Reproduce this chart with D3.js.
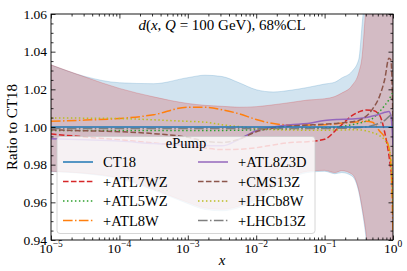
<!DOCTYPE html>
<html>
<head>
<meta charset="utf-8">
<script src="https://cdn.jsdelivr.net/npm/d3@7"></script>
<style>
  body { margin: 0; background: #fff; }
  svg { display: block; font-family: "Liberation Serif", "DejaVu Serif", serif; }
</style>
</head>
<body>
<svg id="chart" width="407" height="271"></svg>
<script>
// ---- data (x given as log10 x) ----
const bandLogX = [-5, -4.5, -4, -3.5, -3, -2.75, -2.5, -2.25, -2, -1.75, -1.5, -1.25, -1, -0.85, -0.75, -0.6, -0.5, -0.45, -0.4, -0.35, -0.3, 0];
const ct18Upper = [1.033, 1.0268, 1.0235, 1.023, 1.0262, 1.0275, 1.0268, 1.0235, 1.0198, 1.0186, 1.0195, 1.021, 1.0228, 1.0238, 1.026, 1.0295, 1.036, 1.055, 1.075, 1.09, 1.11, 1.2];
const ct18Lower = [0.9763, 0.9752, 0.9725, 0.9665, 0.9593, 0.9562, 0.9555, 0.9572, 0.961, 0.9675, 0.9728, 0.9758, 0.9765, 0.9752, 0.9758, 0.974, 0.9655, 0.9555, 0.943, 0.925, 0.91, 0.8];
const ePumpUpper = [1.033, 1.0265, 1.0205, 1.016, 1.0125, 1.0115, 1.011, 1.0105, 1.0108, 1.0118, 1.013, 1.0143, 1.015, 1.0162, 1.018, 1.022, 1.029, 1.038, 1.062, 1.085, 1.11, 1.2];
const ePumpLower = [0.9765, 0.9755, 0.973, 0.967, 0.96, 0.957, 0.9563, 0.958, 0.962, 0.968, 0.9735, 0.9765, 0.977, 0.9758, 0.9768, 0.975, 0.9665, 0.957, 0.9455, 0.93, 0.91, 0.8];

const lineLogX = [-5, -4.5, -4, -3.5, -3, -2.75, -2.5, -2.25, -2, -1.75, -1.5, -1.25, -1, -0.8, -0.6, -0.5, -0.4, -0.3, -0.2, -0.12, -0.06, -0.03, 0];
const ct18 = [1, 1, 1, 1, 1, 1, 1, 1, 1, 1, 1, 1, 1, 1, 1, 1, 1, 1, 1, 1, 1, 1, 1];
const atl7wz = [0.9963, 0.9947, 0.9932, 0.9915, 0.99, 0.9888, 0.988, 0.9882, 0.989, 0.9905, 0.9918, 0.9922, 0.9935, 0.9995, 1.006, 1.008, 1.009, 1.0088, 1.0065, 0.997, 0.985, 0.977, 0.97];
const atl5wz = [0.9982, 0.9982, 0.9982, 0.9982, 0.9982, 0.9982, 0.9982, 0.9983, 0.9985, 0.9988, 0.999, 0.9993, 0.9995, 1.0, 1.0012, 1.002, 1.003, 1.0045, 1.008, 1.0115, 1.0145, 1.0165, 1.0186];
const atl8w = [1.003, 1.0037, 1.0045, 1.0065, 1.0105, 1.0105, 1.0092, 1.007, 1.004, 1.0018, 1.0011, 1.001, 1.0012, 1.0018, 1.0025, 1.0028, 1.003, 1.0025, 0.998, 0.9945, 0.989, 0.98, 0.945];
const atl8z3d = [0.9937, 0.9932, 0.9925, 0.9912, 0.9903, 0.9902, 0.99, 0.9935, 0.998, 1.0, 1.0012, 1.0018, 1.0035, 1.004, 1.0042, 1.0045, 1.005, 1.0058, 1.0068, 1.0078, 1.0082, 1.006, 0.99];
const cms13z = [0.9985, 0.998, 0.9975, 0.9965, 0.9945, 0.9925, 0.9918, 0.9935, 0.9975, 0.9995, 1.0005, 1.001, 1.0015, 1.002, 1.0028, 1.0035, 1.0055, 1.0095, 1.016, 1.0255, 1.0365, 1.0355, 1.003];
const lhcb8w = [1.0048, 1.0047, 1.0045, 1.0038, 1.003, 1.0026, 1.0012, 1.0002, 0.9992, 0.9986, 0.9984, 0.9983, 0.9983, 0.9984, 0.9985, 0.9985, 0.998, 0.997, 0.9955, 0.993, 0.989, 0.982, 0.955];
const lhcb13z = [0.9992, 0.9992, 0.9992, 0.9992, 0.9992, 0.9992, 0.9992, 0.9992, 0.9992, 0.9992, 0.9992, 0.9992, 0.9992, 0.9993, 0.9995, 0.9997, 1.0, 1.0008, 1.002, 1.0035, 1.0055, 1.0062, 1.005];

const seriesNames = ['CT18', '+ATL7WZ', '+ATL5WZ', '+ATL8W', '+ATL8Z3D', '+CMS13Z', '+LHCb8W', '+LHCb13Z'];
const seriesValues = [ct18, atl7wz, atl5wz, atl8w, atl8z3d, cms13z, lhcb8w, lhcb13z];
const seriesColors = ['#1f77b4', '#d62728', '#2ca02c', '#ff7f0e', '#9467bd', '#8c564b', '#bcbd22', '#7f7f7f'];
const seriesDash = ['none', '5.55,2.4', '1.5,2.475', '9.6,2.4,1.5,2.4', 'none', '5.55,2.4', '1.5,2.475', '9.6,2.4,1.5,2.4'];

const yTicks = [0.94, 0.96, 0.98, 1.00, 1.02, 1.04, 1.06];
const xTickExp = [-5, -4, -3, -2, -1, 0];

// ---- layout ----
const plotLeft = 51;
const plotRight = 393;
const plotTop = 14;
const plotBottom = 240;

const svg = d3.select('#chart');

const x = d3.scaleLog().domain([1e-5, 1]).range([plotLeft, plotRight]);
const y = d3.scaleLinear().domain([0.94, 1.06]).range([plotBottom, plotTop]);

svg.append('defs').append('clipPath').attr('id', 'plot-clip')
  .append('rect')
  .attr('x', plotLeft).attr('y', plotTop)
  .attr('width', plotRight - plotLeft).attr('height', plotBottom - plotTop);

const plot = svg.append('g').attr('clip-path', 'url(#plot-clip)');

// bands
function drawBand(lo, hi, color, alpha) {
  const pts = bandLogX.map((lx, i) => ({ x: 10 ** lx, lo: lo[i], hi: hi[i] }));
  const area = d3.area()
    .x((d) => x(d.x))
    .y0((d) => y(d.lo))
    .y1((d) => y(d.hi))
    .curve(d3.curveMonotoneX);
  plot.append('path')
    .datum(pts)
    .attr('d', area)
    .attr('fill', color)
    .attr('fill-opacity', alpha)
    .attr('stroke', color)
    .attr('stroke-opacity', alpha)
    .attr('stroke-width', 1);
}
drawBand(ct18Lower, ct18Upper, '#1f77b4', 0.2);
drawBand(ePumpLower, ePumpUpper, '#d62728', 0.22);

// lines (CT18 last so it stays on top)
const line = d3.line()
  .x((d) => x(d.x))
  .y((d) => y(d.v))
  .curve(d3.curveMonotoneX);

const drawOrder = [1, 2, 3, 4, 5, 6, 7, 0];
drawOrder.forEach((k) => {
  const pts = lineLogX.map((lx, i) => ({ x: 10 ** lx, v: seriesValues[k][i] }));
  plot.append('path')
    .datum(pts)
    .attr('d', line)
    .attr('fill', 'none')
    .attr('stroke', seriesColors[k])
    .attr('stroke-width', 1.5)
    .attr('stroke-dasharray', seriesDash[k]);
});

// ---- axes (ticks inward on all sides) ----
const majorLen = 4.5;
const minorLen = 2.5;
const yMinor = d3.range(0.945, 1.06, 0.005).filter((v) => !yTicks.some((t) => Math.abs(t - v) < 1e-6));
const xMinor = [];
xTickExp.slice(0, -1).forEach((e) => {
  for (let m = 2; m <= 9; m += 1) xMinor.push(m * 10 ** e);
});

function styleAxis(g) {
  g.select('.domain').remove();
  g.selectAll('line').attr('stroke', '#000').attr('stroke-width', 0.8);
}

svg.append('g').attr('transform', `translate(${plotLeft},0)`)
  .call(d3.axisLeft(y).tickValues(yTicks).tickSize(-majorLen).tickPadding(4).tickFormat(d3.format('.2f')))
  .call(styleAxis)
  .call((g) => g.selectAll('text').attr('font-size', '13.5px').attr('fill', '#000').attr('font-family', '"Liberation Serif", serif'));
svg.append('g').attr('transform', `translate(${plotLeft},0)`)
  .call(d3.axisLeft(y).tickValues(yMinor).tickSize(-minorLen).tickFormat(''))
  .call(styleAxis);
svg.append('g').attr('transform', `translate(${plotRight},0)`)
  .call(d3.axisRight(y).tickValues(yTicks).tickSize(-majorLen).tickFormat(''))
  .call(styleAxis);
svg.append('g').attr('transform', `translate(${plotRight},0)`)
  .call(d3.axisRight(y).tickValues(yMinor).tickSize(-minorLen).tickFormat(''))
  .call(styleAxis);

const xMajor = xTickExp.map((e) => 10 ** e);
svg.append('g').attr('transform', `translate(0,${plotBottom})`)
  .call(d3.axisBottom(x).tickValues(xMajor).tickSize(-majorLen).tickFormat(''))
  .call(styleAxis);
svg.append('g').attr('transform', `translate(0,${plotBottom})`)
  .call(d3.axisBottom(x).tickValues(xMinor).tickSize(-minorLen).tickFormat(''))
  .call(styleAxis);
svg.append('g').attr('transform', `translate(0,${plotTop})`)
  .call(d3.axisTop(x).tickValues(xMajor).tickSize(-majorLen).tickFormat(''))
  .call(styleAxis);
svg.append('g').attr('transform', `translate(0,${plotTop})`)
  .call(d3.axisTop(x).tickValues(xMinor).tickSize(-minorLen).tickFormat(''))
  .call(styleAxis);

// x tick labels 10^n
const xl = svg.append('g').attr('font-size', '13.5px').attr('fill', '#000');
xTickExp.forEach((e) => {
  const t = xl.append('text')
    .attr('x', x(10 ** e))
    .attr('y', 253)
    .attr('text-anchor', 'middle');
  t.append('tspan').text('10');
  t.append('tspan')
    .attr('font-size', '9.5px')
    .attr('dy', -6)
    .text(e === 0 ? '0' : `\u2212${-e}`);
});

// frame
svg.append('rect')
  .attr('x', plotLeft).attr('y', plotTop)
  .attr('width', plotRight - plotLeft).attr('height', plotBottom - plotTop)
  .attr('fill', 'none')
  .attr('stroke', '#000')
  .attr('stroke-width', 0.9);

// ---- texts ----
const title = svg.append('text')
  .attr('x', (plotLeft + plotRight) / 2)
  .attr('y', 30)
  .attr('text-anchor', 'middle')
  .attr('font-size', '15px')
  .attr('fill', '#000');
title.append('tspan').attr('font-style', 'italic').text('d');
title.append('tspan').text('(');
title.append('tspan').attr('font-style', 'italic').text('x');
title.append('tspan').text(', ');
title.append('tspan').attr('font-style', 'italic').text('Q');
title.append('tspan').text(' = 100 GeV),  68%CL');

svg.append('text')
  .attr('transform', `translate(17,${(plotTop + plotBottom) / 2}) rotate(-90)`)
  .attr('text-anchor', 'middle')
  .attr('font-size', '15px')
  .attr('fill', '#000')
  .text('Ratio to CT18');

svg.append('text')
  .attr('x', (plotLeft + plotRight) / 2)
  .attr('y', 265)
  .attr('text-anchor', 'middle')
  .attr('font-size', '15px')
  .attr('font-style', 'italic')
  .attr('fill', '#000')
  .text('x');

// ---- legend ----
const legend = svg.append('g');
legend.append('rect')
  .attr('x', 57).attr('y', 136.5)
  .attr('width', 258).attr('height', 97)
  .attr('rx', 3)
  .attr('fill', '#fff')
  .attr('fill-opacity', 0.8)
  .attr('stroke', '#ccc')
  .attr('stroke-width', 0.8);

legend.append('text')
  .attr('x', 186).attr('y', 148)
  .attr('text-anchor', 'middle')
  .attr('font-size', '14.5px')
  .attr('fill', '#000')
  .text('ePump');

const colX = [63, 198];
const rowY = [162, 181.5, 201, 220.5];
seriesNames.forEach((name, i) => {
  const cx = colX[Math.floor(i / 4)];
  const cy = rowY[i % 4];
  legend.append('line')
    .attr('x1', cx).attr('x2', cx + 30)
    .attr('y1', cy).attr('y2', cy)
    .attr('stroke', seriesColors[i])
    .attr('stroke-width', 1.5)
    .attr('stroke-dasharray', seriesDash[i]);
  legend.append('text')
    .attr('x', cx + 40)
    .attr('y', cy)
    .attr('dy', '0.35em')
    .attr('font-size', '14.5px')
    .attr('fill', '#000')
    .text(name);
});
</script>
</body>
</html>
